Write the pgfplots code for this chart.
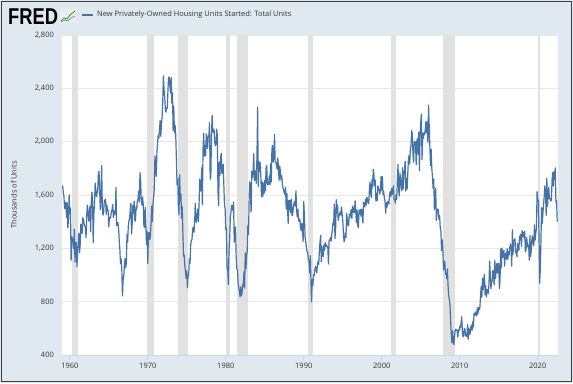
\documentclass[border=0pt]{standalone}
\usepackage{pgfplots}
\pgfplotsset{compat=1.18}
\usepackage{fontspec}
\setmainfont{Open Sans}
\newfontfamily\logofont{Liberation Sans}
\definecolor{bgc}{RGB}{225,233,240}
\definecolor{framec}{RGB}{60,60,60}
\definecolor{fredblue}{RGB}{69,114,167}
\definecolor{recc}{RGB}{225,225,225}
\definecolor{gridc}{RGB}{232,232,232}
\definecolor{axisc}{RGB}{204,214,235}
\definecolor{txtc}{RGB}{51,51,51}
\begin{document}
\begin{tikzpicture}[x=1bp,y=1bp]
\fill[bgc] (0,0) rectangle (573,383);
\draw[framec, line width=1bp] (1.5,1.5) rectangle (571.5,381.5);
% logo
\node[anchor=west, inner sep=0pt, xscale=0.8, text=black] at (8,366.5) {\logofont\bfseries\fontsize{23}{23}\selectfont FRED};
\fill[white!85!gray] (60,360) rectangle (76,374);
\draw[green!60!black, line width=0.7bp] (61,362) -- (64,365) -- (67,364) -- (70,368) -- (75,372);
\draw[fredblue, line width=0.5bp] (61,361) -- (65,363) -- (68,362) -- (71,365) -- (75,367);
% legend
\draw[fredblue, line width=1.2bp] (82,368) -- (93,368);
\node[anchor=west, inner sep=0pt, text=txtc] at (97,368) {\fontsize{7.5}{9}\selectfont New Privately-Owned Housing Units Started: Total Units};
\begin{axis}[
  at={(62bp,28bp)}, anchor=south west,
  scale only axis, width=496bp, height=320bp,
  axis background/.style={fill=white},
  xmin=1959, xmax=2022.6, ymin=400, ymax=2800,
  ytick={400,800,1200,1600,2000,2400,2800},
  xtick={1960,1970,1980,1990,2000,2010,2020},
  xticklabels={1960,1970,1980,1990,2000,2010,2020},
  ymajorgrids, grid style={draw=gridc, line width=0.8bp},
  axis x line*=bottom, axis y line*=left,
  x axis line style={draw=axisc, line width=0.8bp, -},
  y axis line style={draw=none, -},
  tick align=outside, major tick length=5bp,
  xtick style={draw=axisc, line width=0.8bp},
  ytick style={draw=none},
  /pgf/number format/assume math mode=true,
  tick label style={font=\fontsize{7.5}{9}\selectfont, text=txtc},
  yticklabel style={inner sep=0pt, xshift=-3bp},
  xticklabel style={inner sep=0pt, yshift=-3bp},
  ylabel={Thousands of Units},
  ylabel style={at={(axis description cs:-0.097,0.5)}, anchor=center, font=\fontsize{7.5}{9}\selectfont, text=txtc},
  clip=true,
]
\fill[recc] (axis cs:1960.25,400) rectangle (axis cs:1961.083,2800);
\fill[recc] (axis cs:1969.917,400) rectangle (axis cs:1970.833,2800);
\fill[recc] (axis cs:1973.833,400) rectangle (axis cs:1975.167,2800);
\fill[recc] (axis cs:1980.0,400) rectangle (axis cs:1980.5,2800);
\fill[recc] (axis cs:1981.5,400) rectangle (axis cs:1982.833,2800);
\fill[recc] (axis cs:1990.5,400) rectangle (axis cs:1991.167,2800);
\fill[recc] (axis cs:2001.167,400) rectangle (axis cs:2001.833,2800);
\fill[recc] (axis cs:2007.917,400) rectangle (axis cs:2009.417,2800);
\fill[recc] (axis cs:2020.083,400) rectangle (axis cs:2020.25,2800);
\addplot[fredblue, line width=1.2bp, line join=round, mark=none] table[x expr={1959+\coordindex/12}, y index=0, header=false, row sep=\\] {
1657\\1667\\1620\\1590\\1498\\1503\\1547\\1430\\1540\\1355\\1416\\1601\\
1460\\1503\\1109\\1289\\1271\\1247\\1197\\1344\\1097\\1246\\1246\\1063\\
1183\\1226\\1312\\1166\\1228\\1382\\1335\\1312\\1429\\1415\\1385\\1365\\
1361\\1278\\1443\\1524\\1483\\1404\\1450\\1517\\1324\\1533\\1622\\1564\\
1244\\1456\\1534\\1689\\1641\\1588\\1614\\1639\\1763\\1779\\1622\\1491\\
1603\\1820\\1517\\1448\\1467\\1550\\1562\\1569\\1455\\1524\\1486\\1484\\
1361\\1433\\1423\\1438\\1478\\1488\\1529\\1432\\1482\\1452\\1460\\1656\\
1370\\1378\\1394\\1352\\1265\\1194\\1086\\1119\\1046\\843\\961\\990\\
1067\\1123\\1056\\1091\\1304\\1248\\1364\\1407\\1421\\1491\\1538\\1308\\
1380\\1520\\1466\\1554\\1408\\1405\\1512\\1495\\1556\\1569\\1630\\1548\\
1769\\1705\\1561\\1524\\1583\\1528\\1368\\1358\\1507\\1381\\1229\\1327\\
1085\\1305\\1319\\1264\\1290\\1385\\1517\\1399\\1534\\1580\\1647\\1893\\
1828\\1741\\1910\\1986\\2049\\2026\\2083\\2158\\2041\\2128\\2182\\2295\\
2494\\2390\\2334\\2249\\2221\\2254\\2252\\2382\\2481\\2485\\2421\\2366\\
2481\\2289\\2365\\2084\\2266\\2067\\2123\\2051\\1874\\1677\\1724\\1526\\
1451\\1752\\1555\\1607\\1426\\1513\\1316\\1142\\1150\\1070\\1026\\975\\
1032\\904\\993\\1005\\1121\\1087\\1226\\1260\\1264\\1344\\1360\\1321\\
1367\\1538\\1421\\1395\\1459\\1495\\1401\\1550\\1720\\1629\\1641\\1804\\
1527\\1943\\2063\\1892\\1971\\1893\\2058\\2020\\1949\\2042\\2042\\2142\\
1718\\1738\\2032\\2197\\2075\\2070\\2092\\1996\\1970\\1981\\2094\\2044\\
1630\\1520\\1847\\1748\\1876\\1913\\1760\\1778\\1832\\1681\\1524\\1498\\
1341\\1350\\1047\\1051\\927\\1196\\1269\\1436\\1471\\1523\\1510\\1482\\
1547\\1246\\1306\\1360\\1140\\1045\\1041\\940\\911\\873\\837\\910\\
843\\866\\931\\917\\1025\\902\\1166\\1046\\1144\\1173\\1372\\1303\\
1586\\1699\\1606\\1472\\1776\\1733\\1785\\1910\\1710\\1715\\1785\\1688\\
1897\\2260\\1663\\1851\\1774\\1843\\1732\\1586\\1698\\1590\\1689\\1612\\
1711\\1632\\1800\\1821\\1680\\1676\\1684\\1743\\1676\\1834\\1698\\1942\\
1972\\1848\\1876\\2054\\1848\\1845\\1822\\1794\\1878\\1813\\1710\\1818\\
1780\\1712\\1744\\1692\\1653\\1640\\1613\\1606\\1658\\1494\\1613\\1503\\
1387\\1560\\1487\\1561\\1467\\1568\\1445\\1459\\1506\\1539\\1551\\1517\\
1632\\1482\\1435\\1494\\1410\\1399\\1420\\1356\\1332\\1387\\1355\\1251\\
1551\\1437\\1289\\1248\\1212\\1177\\1171\\1115\\1110\\1014\\1145\\969\\
798\\965\\921\\1001\\996\\1036\\1063\\1049\\1015\\1079\\1103\\1079\\
1176\\1250\\1297\\1099\\1214\\1145\\1139\\1226\\1186\\1244\\1214\\1227\\
1210\\1210\\1083\\1258\\1260\\1280\\1254\\1300\\1343\\1392\\1376\\1533\\
1272\\1337\\1564\\1465\\1526\\1409\\1439\\1450\\1474\\1450\\1511\\1455\\
1407\\1316\\1249\\1267\\1314\\1281\\1461\\1416\\1369\\1369\\1452\\1431\\
1467\\1491\\1424\\1516\\1504\\1467\\1472\\1557\\1475\\1392\\1489\\1370\\
1355\\1486\\1457\\1492\\1442\\1494\\1437\\1390\\1546\\1520\\1510\\1566\\
1525\\1584\\1567\\1540\\1536\\1641\\1698\\1614\\1582\\1715\\1660\\1792\\
1748\\1670\\1710\\1553\\1611\\1559\\1669\\1648\\1635\\1608\\1648\\1740\\
1636\\1737\\1604\\1626\\1575\\1559\\1463\\1541\\1507\\1549\\1551\\1532\\
1600\\1625\\1590\\1649\\1605\\1636\\1670\\1567\\1562\\1540\\1602\\1568\\
1698\\1829\\1642\\1592\\1764\\1717\\1655\\1633\\1804\\1648\\1753\\1788\\
1853\\1629\\1726\\1643\\1751\\1867\\1897\\1833\\1939\\1967\\2083\\2057\\
1911\\1846\\1998\\2003\\1981\\1828\\2002\\2024\\1905\\2072\\1782\\2042\\
2144\\2207\\1864\\2061\\2025\\2068\\2054\\2095\\2151\\2065\\2147\\1994\\
2273\\2119\\1969\\1821\\1942\\1802\\1737\\1650\\1720\\1491\\1570\\1649\\
1409\\1480\\1495\\1490\\1415\\1448\\1354\\1330\\1183\\1264\\1197\\1037\\
1084\\1103\\1005\\1013\\973\\1046\\923\\844\\820\\777\\652\\560\\
490\\582\\505\\478\\540\\585\\594\\586\\585\\534\\588\\581\\
614\\604\\636\\687\\583\\536\\546\\599\\594\\543\\545\\539\\
630\\517\\600\\554\\561\\608\\623\\585\\650\\610\\711\\694\\
723\\704\\695\\753\\708\\757\\740\\754\\847\\915\\833\\976\\
888\\962\\1005\\852\\919\\835\\891\\883\\863\\936\\1105\\1003\\
897\\938\\960\\1034\\1010\\927\\1108\\973\\1036\\1084\\1015\\1088\\
1086\\897\\964\\1195\\1053\\1202\\1133\\1150\\1185\\1067\\1154\\1165\\
1119\\1198\\1117\\1174\\1152\\1205\\1233\\1195\\1068\\1339\\1156\\1261\\
1261\\1272\\1168\\1180\\1136\\1236\\1191\\1185\\1292\\1262\\1304\\1216\\
1333\\1290\\1320\\1276\\1329\\1177\\1184\\1280\\1229\\1209\\1226\\1110\\
1297\\1137\\1184\\1267\\1294\\1235\\1221\\1376\\1262\\1313\\1346\\1626\\
1567\\1557\\1278\\938\\1046\\1273\\1506\\1387\\1467\\1530\\1590\\1669\\
1625\\1447\\1725\\1514\\1594\\1657\\1574\\1575\\1554\\1563\\1706\\1768\\
1666\\1777\\1716\\1803\\1543\\1561\\1400\\
};
\end{axis}
\end{tikzpicture}
\end{document}
